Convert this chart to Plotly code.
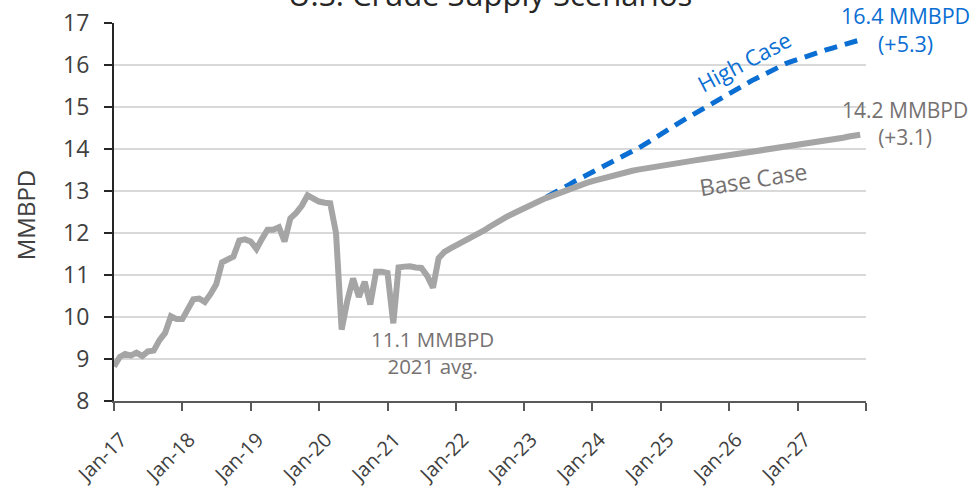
import pandas as pd
import plotly.graph_objects as go

# ---- data ----
start_month = "2017-01-01"

history_and_base = [
    # 2017
    8.82, 9.05, 9.12, 9.08, 9.15, 9.07, 9.18, 9.20, 9.45, 9.62, 10.02, 9.95,
    # 2018
    9.95, 10.20, 10.42, 10.44, 10.36, 10.55, 10.78, 11.30, 11.38, 11.44, 11.82, 11.85,
    # 2019
    11.80, 11.62, 11.85, 12.08, 12.08, 12.14, 11.80, 12.35, 12.48, 12.65, 12.90, 12.83,
    # 2020
    12.75, 12.72, 12.71, 12.00, 9.70, 10.40, 10.92, 10.48, 10.84, 10.30, 11.08, 11.08,
    # 2021
    11.05, 9.85, 11.18, 11.20, 11.21, 11.18, 11.17, 10.98, 10.70, 11.40, 11.55, 11.63,
    # 2022
    11.70, 11.76, 11.83, 11.90, 11.98, 12.06, 12.15, 12.24, 12.32, 12.39, 12.46, 12.53,
    # 2023
    12.59, 12.655, 12.718, 12.779, 12.838, 12.895, 12.95, 13.003, 13.054, 13.103, 13.15, 13.195,
    # 2024
    13.238, 13.279, 13.318, 13.355, 13.39, 13.423, 13.454, 13.483, 13.51, 13.535, 13.559, 13.582,
    # 2025
    13.60, 13.62, 13.64, 13.66, 13.68, 13.71, 13.73, 13.75, 13.77, 13.79, 13.81, 13.83,
    # 2026
    13.85, 13.87, 13.89, 13.92, 13.94, 13.96, 13.98, 14.00, 14.02, 14.04, 14.06, 14.08,
    # 2027
    14.11, 14.13, 14.15, 14.17, 14.19, 14.21, 14.23, 14.25, 14.27, 14.30, 14.32, 14.34,
]

high_start_month = "2023-05-01"
high_case = [
    12.86, 12.93, 13.00, 13.08, 13.16, 13.24, 13.31, 13.38,
    13.45, 13.51, 13.58, 13.65, 13.72, 13.80, 13.87, 13.94, 14.02, 14.10, 14.19, 14.28,
    14.37, 14.45, 14.53, 14.61, 14.69, 14.77, 14.85, 14.93, 15.00, 15.08, 15.16, 15.24,
    15.32, 15.40, 15.48, 15.56, 15.63, 15.70, 15.77, 15.84, 15.91, 15.98, 16.04, 16.09,
    16.14, 16.19, 16.24, 16.28, 16.32, 16.36, 16.40, 16.44, 16.48, 16.52, 16.56, 16.60,
]

tick_dates = ["2017-01-01", "2018-01-01", "2019-01-01", "2020-01-01", "2021-01-01",
              "2022-01-01", "2023-01-01", "2024-01-01", "2025-01-01", "2026-01-01",
              "2027-01-01", "2028-01-01"]
tick_labels = ["Jan-17", "Jan-18", "Jan-19", "Jan-20", "Jan-21", "Jan-22",
               "Jan-23", "Jan-24", "Jan-25", "Jan-26", "Jan-27", ""]
y_ticks = [8, 9, 10, 11, 12, 13, 14, 15, 16, 17]

title_text = "U.S. Crude Supply Scenarios"
high_label = "16.4 MMBPD<br>(+5.3)"
base_label = "14.2 MMBPD<br>(+3.1)"
avg_label = "11.1 MMBPD<br>2021 avg."

# ---- styling ----
FONT = "Open Sans"
GRAY_LINE = "#A5A5A5"
BLUE = "#0A6ED3"
GRAY_TEXT = "#767171"
AXIS_COLOR = "#404040"

x_base = pd.date_range(start_month, periods=len(history_and_base), freq="MS")
x_high = pd.date_range(high_start_month, periods=len(high_case), freq="MS")

fig = go.Figure()
fig.add_trace(go.Scatter(
    x=x_high, y=high_case, mode="lines",
    line=dict(color=BLUE, width=5, dash="13px,8px"),
    hoverinfo="skip", showlegend=False))
fig.add_trace(go.Scatter(
    x=x_base, y=history_and_base, mode="lines",
    line=dict(color=GRAY_LINE, width=6),
    hoverinfo="skip", showlegend=False))

fig.update_layout(
    width=980, height=490,
    margin=dict(l=114, r=114, t=23, b=89, autoexpand=False),
    paper_bgcolor="white", plot_bgcolor="white",
    font=dict(family=FONT, color=AXIS_COLOR),
    showlegend=False,
)

fig.update_xaxes(
    range=["2017-01-01", "2028-01-01"], automargin=False,
    tickmode="array", tickvals=tick_dates, ticktext=tick_labels,
    tickangle=-45, tickfont=dict(size=20, color=AXIS_COLOR, family=FONT),
    ticklabelstandoff=9, ticklabelshift=7,
    showgrid=False, zeroline=False,
    showline=True, linecolor="#595959", linewidth=2,
    ticks="outside", ticklen=8, tickcolor="#595959", tickwidth=1.5,
)
fig.update_yaxes(
    range=[8, 17.002], automargin=False,
    tickmode="array", tickvals=y_ticks,
    tickfont=dict(size=23, color=AXIS_COLOR, family=FONT),
    ticklabelstandoff=10,
    showgrid=True, gridcolor="#D9D9D9", gridwidth=2,
    zeroline=False,
    showline=True, linecolor="#262626", linewidth=2,
    ticks="outside", ticklen=8, tickcolor="#262626", tickwidth=1.5,
)

anns = [
    dict(text=title_text, x=0.5, y=1.016, yanchor="bottom",
         font=dict(size=31, color="#262626")),
    dict(text="MMBPD", x=-0.118, y=0.492, textangle=-90,
         font=dict(size=24, color=AXIS_COLOR)),
    dict(text=high_label, x=1.053, y=0.984, font=dict(size=21.5, color=BLUE)),
    dict(text=base_label, x=1.052, y=0.733, font=dict(size=21, color=GRAY_TEXT)),
    dict(text=avg_label, x=0.423, y=0.128, font=dict(size=20.5, color=GRAY_TEXT)),
    dict(text="High Case", x=0.838, y=0.899, textangle=-28,
         font=dict(size=22, color=BLUE)),
    dict(text="Base Case", x=0.85, y=0.587, textangle=-9,
         font=dict(size=23, color=GRAY_TEXT)),
]
for a in anns:
    a.setdefault("yanchor", "middle")
    fig.add_annotation(xref="paper", yref="paper", xanchor="center",
                       align="center", showarrow=False, **a)

fig.write_html("out.html", config={"displayModeBar": False},
               post_script="document.body.style.margin='0px';")
